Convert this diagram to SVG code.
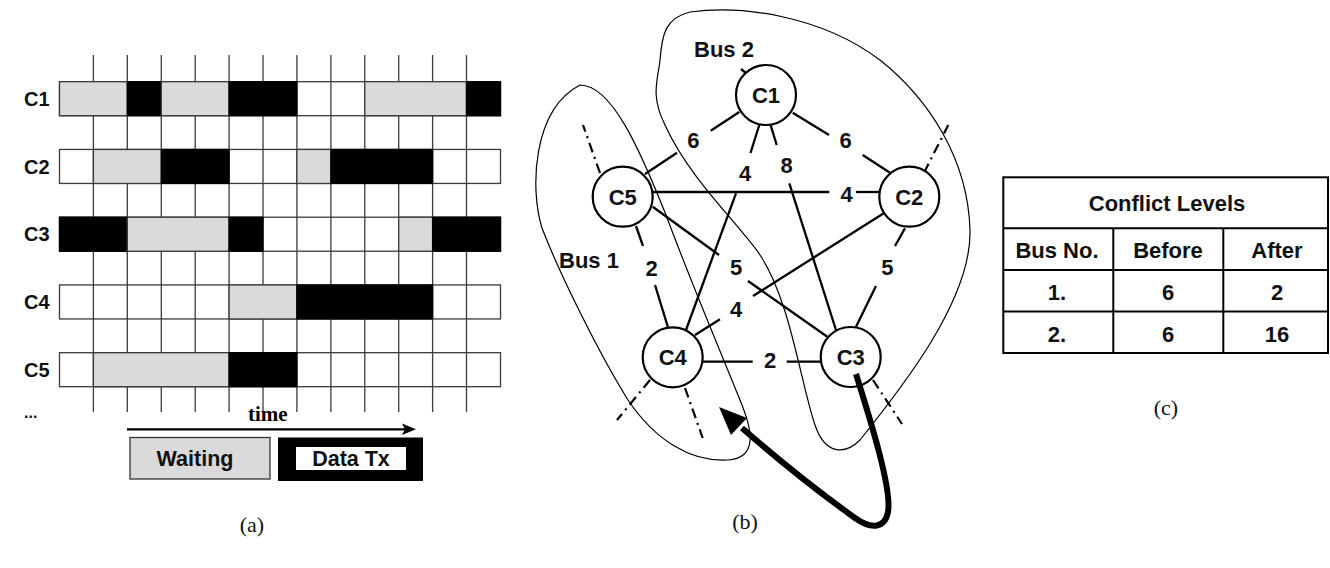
<svg xmlns="http://www.w3.org/2000/svg" width="1330" height="568" viewBox="0 0 1330 568">
  <style>
    .lbl { font-family: "Liberation Sans", Arial, sans-serif; font-weight: bold; font-size: 20px; fill: #111; }
    .big { font-size: 22px; }
    .cap { font-family: "Liberation Serif", "Times New Roman", serif; font-size: 22px; fill: #111; }
    .grid { stroke: #3a3a3a; stroke-width: 1.3; }
    .w { fill: #fff; stroke: #3a3a3a; stroke-width: 1.3; }
    .g { fill: #dadada; stroke: #3a3a3a; stroke-width: 1.3; }
    .b { fill: #000; stroke: #000; stroke-width: 1.3; }
    .edge { stroke: #000; stroke-width: 2.3; fill: none; stroke-linecap: butt; }
    .stub { stroke: #000; stroke-width: 2.2; fill: none; stroke-dasharray: 10 5 2 5; }
    .bus { stroke: #000; stroke-width: 1.2; fill: none; }
    .node circle { fill: #fff; stroke: #000; stroke-width: 2.2; }
    .tbl { stroke: #000; stroke-width: 2; fill: none; }
  </style>
  <rect width="1330" height="568" fill="#fff"/>

  <!-- (a) channel time grid -->
  <g id="timeline">
    <!-- row bases -->
    <rect class="w" x="59.5" y="81.7" width="441" height="34"/>
    <rect class="w" x="59.5" y="149.45" width="441" height="34"/>
    <rect class="w" x="59.5" y="217.2" width="441" height="34"/>
    <rect class="w" x="59.5" y="284.95" width="441" height="34"/>
    <rect class="w" x="59.5" y="352.7" width="441" height="34"/>
    <!-- time slot lines -->
    <g class="grid">
      <line x1="93.4" y1="55" x2="93.4" y2="412"/>
      <line x1="127.3" y1="55" x2="127.3" y2="412"/>
      <line x1="161.3" y1="55" x2="161.3" y2="412"/>
      <line x1="195.2" y1="55" x2="195.2" y2="412"/>
      <line x1="229.1" y1="55" x2="229.1" y2="412"/>
      <line x1="263" y1="55" x2="263" y2="412"/>
      <line x1="296.9" y1="55" x2="296.9" y2="412"/>
      <line x1="330.9" y1="55" x2="330.9" y2="412"/>
      <line x1="364.8" y1="55" x2="364.8" y2="412"/>
      <line x1="398.7" y1="55" x2="398.7" y2="412"/>
      <line x1="432.6" y1="55" x2="432.6" y2="412"/>
      <line x1="466.5" y1="55" x2="466.5" y2="412"/>
    </g>
    <!-- C1 -->
    <rect class="g" x="59.5" y="81.7" width="67.8" height="34"/>
    <rect class="b" x="127.3" y="81.7" width="34" height="34"/>
    <rect class="g" x="161.3" y="81.7" width="67.8" height="34"/>
    <rect class="b" x="229.1" y="81.7" width="67.8" height="34"/>
    <rect class="g" x="364.8" y="81.7" width="101.7" height="34"/>
    <rect class="b" x="466.5" y="81.7" width="34" height="34"/>
    <!-- C2 -->
    <rect class="g" x="93.4" y="149.45" width="67.9" height="34"/>
    <rect class="b" x="161.3" y="149.45" width="67.8" height="34"/>
    <rect class="g" x="296.9" y="149.45" width="34" height="34"/>
    <rect class="b" x="330.9" y="149.45" width="101.7" height="34"/>
    <!-- C3 -->
    <rect class="b" x="59.5" y="217.2" width="67.8" height="34"/>
    <rect class="g" x="127.3" y="217.2" width="101.8" height="34"/>
    <rect class="b" x="229.1" y="217.2" width="33.9" height="34"/>
    <rect class="g" x="398.7" y="217.2" width="33.9" height="34"/>
    <rect class="b" x="432.6" y="217.2" width="67.9" height="34"/>
    <!-- C4 -->
    <rect class="g" x="229.1" y="284.95" width="67.8" height="34"/>
    <rect class="b" x="296.9" y="284.95" width="135.7" height="34"/>
    <!-- C5 -->
    <rect class="g" x="93.4" y="352.7" width="135.7" height="34"/>
    <rect class="b" x="229.1" y="352.7" width="67.8" height="34"/>
    <!-- row names -->
    <text class="lbl" x="24" y="106">C1</text>
    <text class="lbl" x="24" y="173.5">C2</text>
    <text class="lbl" x="24" y="241">C3</text>
    <text class="lbl" x="24" y="309">C4</text>
    <text class="lbl" x="24" y="376.5">C5</text>
    <text class="lbl" x="24" y="418" style="font-size:16px">...</text>
  </g>

  <g id="time-axis">
    <text x="248" y="421" style="font-family:'Liberation Serif','Times New Roman',serif;font-weight:bold;font-size:21px">time</text>
    <line x1="127" y1="429.3" x2="408" y2="429.3" stroke="#000" stroke-width="2.2"/>
    <polygon points="416,429.3 402,423.5 405,429.3 402,435" fill="#000"/>
  </g>

  <g id="legend">
    <rect x="130" y="437.5" width="140" height="41.5" fill="#dadada" stroke="#333" stroke-width="1.3"/>
    <text class="lbl" x="195" y="466" text-anchor="middle" style="font-size:21.5px">Waiting</text>
    <rect x="278" y="437.5" width="145" height="43.5" fill="#000"/>
    <rect x="296" y="447" width="110" height="23" fill="#fff"/>
    <text class="lbl" x="351" y="466" text-anchor="middle" style="font-size:21.5px">Data Tx</text>
  </g>

  <text class="cap" x="252" y="532" text-anchor="middle">(a)</text>

  <!-- (b) conflict graph -->
  <g id="bus-regions">
    <path class="bus" d="M 580 85 C 612 85, 640 150, 666 215 C 690 280, 722 355, 742 405 C 752 430, 758 458, 728 460 C 690 462, 655 440, 628 400 C 600 355, 560 275, 542 228 C 530 190, 532 110, 580 85 Z"/>
    <path class="bus" d="M 690 12 C 740 5, 820 15, 880 60 C 930 100, 968 160, 970 230 C 972 300, 900 390, 860 440 C 845 455, 825 455, 815 425 C 800 380, 790 300, 760 255 C 740 225, 690 180, 665 125 C 650 95, 658 80, 660 60 C 662 35, 665 18, 690 12 Z"/>
    <text class="lbl big" x="694" y="57">Bus 2</text>
    <text class="lbl big" x="559" y="268">Bus 1</text>
  </g>

  <g id="connectors">
    <!-- C1-C5 -->
    <line class="edge" x1="645" y1="174" x2="677" y2="152.7"/>
    <line class="edge" x1="710.7" y1="130.7" x2="739.3" y2="112"/>
    <!-- C1-C2 -->
    <line class="edge" x1="792.7" y1="112.7" x2="829" y2="135"/>
    <line class="edge" x1="862.7" y1="155" x2="890" y2="172.7"/>
    <!-- C1-C4 -->
    <line class="edge" x1="759.3" y1="125" x2="750.5" y2="153"/>
    <line class="edge" x1="736" y1="193.3" x2="686" y2="330"/>
    <!-- C1-C3 -->
    <line class="edge" x1="770.7" y1="125.3" x2="776.7" y2="145"/>
    <line class="edge" x1="789.3" y1="183.3" x2="836" y2="330"/>
    <!-- C5-C2 -->
    <line class="edge" x1="652.5" y1="192" x2="829.3" y2="192"/>
    <line class="edge" x1="856" y1="192" x2="879.5" y2="192"/>
    <!-- C5-C4 -->
    <line class="edge" x1="636" y1="226" x2="643" y2="246"/>
    <line class="edge" x1="655" y1="285" x2="668" y2="327.3"/>
    <!-- C5-C3 -->
    <line class="edge" x1="652.7" y1="206.7" x2="719" y2="255"/>
    <line class="edge" x1="748" y1="281" x2="827.3" y2="336.7"/>
    <!-- C2-C4 -->
    <line class="edge" x1="887.3" y1="211" x2="753" y2="296"/>
    <line class="edge" x1="720" y1="319.3" x2="695" y2="335"/>
    <!-- C4-C3 -->
    <line class="edge" x1="702.7" y1="361.7" x2="752.7" y2="361.7"/>
    <line class="edge" x1="786.7" y1="361.7" x2="820.7" y2="361.7"/>
    <!-- C2-C3 -->
    <line class="edge" x1="905" y1="228.3" x2="895" y2="246"/>
    <line class="edge" x1="876" y1="286" x2="856" y2="326.7"/>
    <!-- links leaving the drawing -->
    <line class="edge" x1="741" y1="69" x2="747" y2="74"/>
    <line class="stub" x1="600" y1="173" x2="583" y2="125"/>
    <line class="stub" x1="924" y1="172.7" x2="948.3" y2="125"/>
    <line class="stub" x1="650" y1="380" x2="617" y2="420"/>
    <line class="stub" x1="685" y1="388" x2="702.7" y2="438"/>
    <line class="stub" x1="873" y1="380" x2="902" y2="424"/>
    <!-- weights -->
    <g class="lbl big" text-anchor="middle">
      <text x="693.3" y="148">6</text>
      <text x="845.7" y="148">6</text>
      <text x="745" y="181">4</text>
      <text x="786.7" y="173">8</text>
      <text x="846.7" y="202">4</text>
      <text x="651.7" y="275.5">2</text>
      <text x="736" y="274.5">5</text>
      <text x="736" y="317">4</text>
      <text x="770" y="368">2</text>
      <text x="887.3" y="275">5</text>
    </g>
  </g>

  <g id="C1" class="node"><circle cx="766" cy="95" r="30"/><text class="lbl big" x="766" y="103" text-anchor="middle">C1</text></g>
  <g id="C2" class="node"><circle cx="909.3" cy="196.7" r="30"/><text class="lbl big" x="909.3" y="204.7" text-anchor="middle">C2</text></g>
  <g id="C3" class="node"><circle cx="850.7" cy="357" r="30"/><text class="lbl big" x="850.7" y="365" text-anchor="middle">C3</text></g>
  <g id="C4" class="node"><circle cx="672.7" cy="357.3" r="30"/><text class="lbl big" x="672.7" y="365.3" text-anchor="middle">C4</text></g>
  <g id="C5" class="node"><circle cx="622.7" cy="196.7" r="30"/><text class="lbl big" x="622.7" y="204.7" text-anchor="middle">C5</text></g>

  <!-- reassignment of C3 -->
  <g id="move-arrow">
    <path d="M 856 374 C 872 425, 892 490, 888 512 C 885 528, 872 530, 855 518 C 830 500, 790 470, 742 428" fill="none" stroke="#000" stroke-width="6"/>
    <polygon points="719,407 747,418 731,435" fill="#000"/>
  </g>

  <text class="cap" x="745" y="529" text-anchor="middle">(b)</text>

  <!-- (c) conflict level table -->
  <g id="table">
    <rect class="tbl" x="1003.3" y="177.3" width="324.7" height="175.7"/>
    <line class="tbl" x1="1003.3" y1="228.3" x2="1328" y2="228.3"/>
    <line class="tbl" x1="1003.3" y1="270" x2="1328" y2="270"/>
    <line class="tbl" x1="1003.3" y1="311.5" x2="1328" y2="311.5"/>
    <line class="tbl" x1="1113.3" y1="228.3" x2="1113.3" y2="353"/>
    <line class="tbl" x1="1223.3" y1="228.3" x2="1223.3" y2="353"/>
    <g class="lbl" text-anchor="middle" style="font-size:22px">
      <text x="1167" y="211">Conflict Levels</text>
      <text x="1057" y="258">Bus No.</text>
      <text x="1168" y="258">Before</text>
      <text x="1277" y="258">After</text>
      <text x="1057" y="300">1.</text>
      <text x="1168" y="300">6</text>
      <text x="1277" y="300">2</text>
      <text x="1057" y="341.5">2.</text>
      <text x="1168" y="341.5">6</text>
      <text x="1277" y="341.5">16</text>
    </g>
  </g>

  <text class="cap" x="1166" y="415" text-anchor="middle">(c)</text>
</svg>
